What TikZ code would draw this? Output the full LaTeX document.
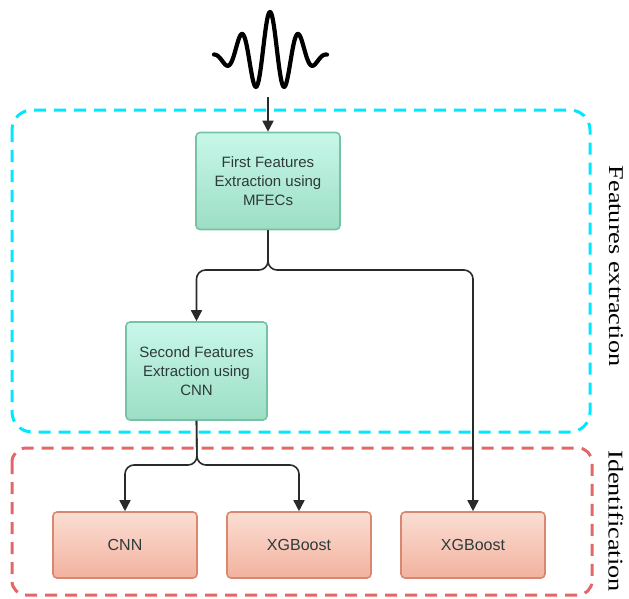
\documentclass[tikz,border=0pt]{standalone}
\usepackage{fontspec}
\setmainfont{Liberation Serif}
\setsansfont{Liberation Sans}
\usetikzlibrary{arrows.meta}
\definecolor{gtop}{HTML}{C8F7E9}
\definecolor{gbot}{HTML}{9CDEC5}
\definecolor{gbrd}{HTML}{76C2A5}
\definecolor{rtop}{HTML}{FBDED3}
\definecolor{rbot}{HTML}{F2B29F}
\definecolor{rbrd}{HTML}{D9876F}
\definecolor{cyanline}{HTML}{00E8FF}
\definecolor{redline}{HTML}{E26868}
\definecolor{txt}{HTML}{2E3A3A}
\definecolor{lin}{HTML}{2A2A2A}
\tikzset{
  greenbox/.style={draw=gbrd, line width=1.6pt, rounded corners=4pt, top color=gtop, bottom color=gbot,
    align=center, text=txt, font=\sffamily\fontsize{15}{19}\selectfont, inner sep=0pt},
  redbox/.style={draw=rbrd, line width=1.6pt, rounded corners=4pt, top color=rtop, bottom color=rbot,
    align=center, text=txt, font=\sffamily\fontsize{16}{19}\selectfont, inner sep=0pt,
    minimum width=144pt, minimum height=66pt},
  conn/.style={draw=lin, line width=1.6pt, rounded corners=9pt, -{Triangle[width=11pt,length=11pt]}},
  grp/.style={line width=3pt, dash pattern=on 12pt off 8pt},
  sidelabel/.style={rotate=-90, font=\fontsize{21}{24}\selectfont, text=black}
}
\begin{document}
\begin{tikzpicture}[x=1pt,y=-1pt]
\useasboundingbox (0,0) rectangle (629,598);
% groups
\draw[grp, cyanline, rounded corners=20pt] (12,110) rectangle (590,432);
\draw[grp, redline, rounded corners=14pt] (12,448) rectangle (592,595);
% wave
\draw[line width=4.2pt, line cap=round, line join=round, black]
  plot[domain=-5.6:5.7, samples=240, smooth] ({270+10*\x}, {58 - 6*exp(-0.08*\x*\x) - 40*exp(-0.08*\x*\x)*cos(124.14*\x)});
\coordinate (wv) at (268,97);
% nodes
\node[greenbox, minimum width=144pt, minimum height=97pt] (f1) at (268,181) {First Features\\Extraction using\\MFECs};
\node[greenbox, minimum width=141pt, minimum height=98pt] (f2) at (196.5,371) {Second Features\\Extraction using\\CNN};
\node[redbox] (cnn) at (125,545) {CNN};
\node[redbox] (xgb1) at (299,545) {XGBoost};
\node[redbox] (xgb2) at (473,545) {XGBoost};
% labels
\node[sidelabel] (lfe) at (616,266) {\scalebox{1.25}[1]{Features extraction}};
\node[sidelabel] (lid) at (616,521) {\scalebox{1.25}[1]{Identification}};
% connectors
\coordinate (j1) at (268,270);
\coordinate (j2) at (197,465);
\draw[conn] (wv) -- (f1.north);
\draw[conn] (f1.south) -- (j1) -| (f2.north);
\draw[conn] (f1.south) -- (j1) -| (xgb2.north);
\draw[conn] (f2.south) -- (j2) -| (cnn.north);
\draw[conn] (f2.south) -- (j2) -| (xgb1.north);
\end{tikzpicture}
\end{document}
